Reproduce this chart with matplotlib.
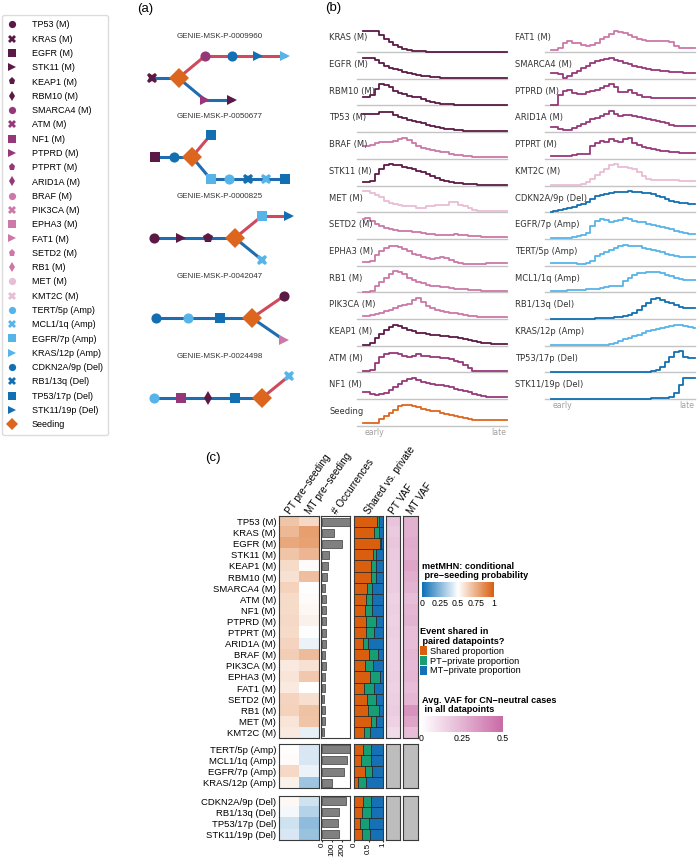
import numpy as np
import matplotlib
matplotlib.use("Agg")
import matplotlib.pyplot as plt
from matplotlib.colors import LinearSegmentedColormap, Normalize
from matplotlib.cm import ScalarMappable
from matplotlib.lines import Line2D
from matplotlib.patches import Patch

plt.rcParams['font.family'] = ['Liberation Sans', 'DejaVu Sans']

### 0 Data
# events (legend order)
events = ["TP53 (M)", "KRAS (M)", "EGFR (M)", "STK11 (M)", "KEAP1 (M)", "RBM10 (M)",
          "SMARCA4 (M)", "ATM (M)", "NF1 (M)", "PTPRD (M)", "PTPRT (M)", "ARID1A (M)",
          "BRAF (M)", "PIK3CA (M)", "EPHA3 (M)", "FAT1 (M)", "SETD2 (M)", "RB1 (M)",
          "MET (M)", "KMT2C (M)",
          "TERT/5p (Amp)", "MCL1/1q (Amp)", "EGFR/7p (Amp)", "KRAS/12p (Amp)",
          "CDKN2A/9p (Del)", "RB1/13q (Del)", "TP53/17p (Del)", "STK11/19p (Del)",
          "Seeding"]

# (a) example trees: events before seeding, after seeding in MT, after seeding in PT
tree_ids = ["GENIE-MSK-P-0009960", "GENIE-MSK-P-0050677", "GENIE-MSK-P-0000825",
            "GENIE-MSK-P-0042047", "GENIE-MSK-P-0024498"]
tree_pre = [["KRAS (M)"],
            ["EGFR (M)", "CDKN2A/9p (Del)"],
            ["TP53 (M)", "STK11 (M)", "KEAP1 (M)"],
            ["CDKN2A/9p (Del)", "TERT/5p (Amp)", "TP53/17p (Del)"],
            ["TERT/5p (Amp)", "NF1 (M)", "RBM10 (M)", "TP53/17p (Del)"]]
tree_met = [["SMARCA4 (M)", "CDKN2A/9p (Del)", "STK11/19p (Del)", "KRAS/12p (Amp)"],
            ["TP53/17p (Del)"],
            ["EGFR/7p (Amp)", "STK11/19p (Del)"],
            ["TP53 (M)"],
            ["MCL1/1q (Amp)"]]
tree_prim = [["PTPRD (M)", "STK11 (M)"],
             ["EGFR/7p (Amp)", "TERT/5p (Amp)", "RB1/13q (Del)", "MCL1/1q (Amp)", "TP53/17p (Del)"],
             ["MCL1/1q (Amp)"],
             ["FAT1 (M)"],
             []]

# (b) event timing profiles, early -> late
b_left_names = ["KRAS (M)", "EGFR (M)", "RBM10 (M)", "TP53 (M)", "BRAF (M)", "STK11 (M)",
                "MET (M)", "SETD2 (M)", "EPHA3 (M)", "RB1 (M)", "PIK3CA (M)", "KEAP1 (M)",
                "ATM (M)", "NF1 (M)", "Seeding"]
b_left_curves = [
    [1, 1, 1, 1, 0.82, 0.62, 0.46, 0.34, 0.24, 0.16, 0.11, 0.07, 0.05, 0.03, 0.02, 0.02, 0.02, 0.01, 0.01, 0.01, 0.01, 0.01, 0.01, 0.01, 0.01, 0.01, 0.01, 0.01, 0.01, 0.01, 0.01, 0.01],
    [1, 1, 1, 0.9, 0.75, 0.62, 0.53, 0.46, 0.39, 0.32, 0.26, 0.21, 0.17, 0.14, 0.11, 0.09, 0.07, 0.05, 0.04, 0.04, 0.03, 0.03, 0.03, 0.02, 0.02, 0.02, 0.02, 0.02, 0.02, 0.02, 0.02, 0.02],
    [0.4, 0.4, 0.48, 0.8, 1, 0.95, 0.85, 0.7, 0.6, 0.52, 0.46, 0.42, 0.38, 0.3, 0.22, 0.15, 0.1, 0.08, 0.06, 0.05, 0.04, 0.04, 0.04, 0.03, 0.03, 0.03, 0.03, 0.03, 0.03, 0.03, 0.03, 0.03],
    [0.85, 0.85, 0.85, 0.86, 0.93, 0.97, 0.95, 0.82, 0.72, 0.65, 0.58, 0.52, 0.47, 0.42, 0.36, 0.3, 0.25, 0.2, 0.16, 0.13, 0.1, 0.08, 0.06, 0.05, 0.04, 0.04, 0.04, 0.04, 0.04, 0.04, 0.04, 0.04],
    [0.62, 0.62, 0.64, 0.75, 0.8, 0.78, 0.82, 0.85, 0.95, 1, 0.88, 0.75, 0.62, 0.52, 0.45, 0.42, 0.38, 0.33, 0.3, 0.25, 0.2, 0.18, 0.15, 0.12, 0.1, 0.09, 0.08, 0.08, 0.08, 0.08, 0.08, 0.08],
    [0.18, 0.18, 0.2, 0.55, 0.8, 0.95, 1, 0.98, 0.95, 0.9, 0.85, 0.77, 0.7, 0.62, 0.55, 0.45, 0.35, 0.28, 0.22, 0.17, 0.13, 0.1, 0.08, 0.06, 0.05, 0.04, 0.04, 0.03, 0.03, 0.03, 0.03, 0.03],
    [1, 1, 0.9, 0.8, 0.7, 0.55, 0.45, 0.38, 0.32, 0.3, 0.3, 0.28, 0.2, 0.22, 0.3, 0.3, 0.32, 0.35, 0.35, 0.48, 0.48, 0.35, 0.28, 0.18, 0.12, 0.08, 0.08, 0.08, 0.08, 0.08, 0.08, 0.08],
    [0.95, 1, 0.85, 0.72, 0.6, 0.52, 0.45, 0.4, 0.38, 0.36, 0.36, 0.35, 0.32, 0.28, 0.24, 0.22, 0.2, 0.19, 0.18, 0.2, 0.22, 0.2, 0.17, 0.15, 0.13, 0.12, 0.11, 0.1, 0.09, 0.08, 0.08, 0.08],
    [0.18, 0.18, 0.2, 0.5, 0.7, 0.85, 0.95, 0.92, 0.9, 0.8, 0.7, 0.55, 0.5, 0.42, 0.35, 0.3, 0.35, 0.4, 0.35, 0.28, 0.18, 0.12, 0.07, 0.06, 0.07, 0.08, 0.09, 0.1, 0.1, 0.1, 0.1, 0.1],
    [0.02, 0.03, 0.08, 0.3, 0.5, 0.7, 0.88, 1, 0.95, 0.85, 0.7, 0.6, 0.5, 0.42, 0.35, 0.32, 0.3, 0.27, 0.24, 0.2, 0.18, 0.16, 0.14, 0.12, 0.1, 0.09, 0.08, 0.08, 0.07, 0.07, 0.06, 0.06],
    [0.12, 0.15, 0.2, 0.25, 0.3, 0.38, 0.45, 0.52, 0.6, 0.68, 0.72, 0.9, 1, 0.82, 0.62, 0.5, 0.42, 0.38, 0.34, 0.3, 0.27, 0.24, 0.2, 0.16, 0.13, 0.11, 0.1, 0.09, 0.09, 0.08, 0.08, 0.08],
    [0.03, 0.05, 0.15, 0.35, 0.55, 0.75, 0.9, 1, 0.95, 0.85, 0.75, 0.68, 0.62, 0.58, 0.55, 0.52, 0.5, 0.48, 0.45, 0.42, 0.4, 0.36, 0.3, 0.26, 0.22, 0.18, 0.15, 0.12, 0.1, 0.08, 0.07, 0.07],
    [0.05, 0.05, 0.1, 0.45, 0.75, 0.85, 0.9, 0.92, 0.88, 0.8, 0.72, 0.8, 0.86, 0.8, 0.76, 0.74, 0.72, 0.7, 0.68, 0.62, 0.56, 0.47, 0.34, 0.2, 0.09, 0.05, 0.06, 0.07, 0.08, 0.08, 0.08, 0.08],
    [0.35, 0.32, 0.25, 0.2, 0.22, 0.3, 0.42, 0.55, 0.7, 0.85, 0.95, 1, 0.9, 0.8, 0.75, 0.72, 0.68, 0.65, 0.6, 0.55, 0.5, 0.45, 0.4, 0.33, 0.25, 0.18, 0.14, 0.12, 0.12, 0.12, 0.12, 0.12],
    [0.11, 0.11, 0.11, 0.12, 0.3, 0.45, 0.6, 0.75, 0.92, 1, 1, 0.95, 0.88, 0.82, 0.75, 0.72, 0.68, 0.62, 0.58, 0.52, 0.46, 0.42, 0.38, 0.33, 0.29, 0.27, 0.27, 0.27, 0.27, 0.27, 0.27, 0.27],
]
b_right_names = ["FAT1 (M)", "SMARCA4 (M)", "PTPRD (M)", "ARID1A (M)", "PTPRT (M)", "KMT2C (M)",
                 "CDKN2A/9p (Del)", "EGFR/7p (Amp)", "TERT/5p (Amp)", "MCL1/1q (Amp)",
                 "RB1/13q (Del)", "KRAS/12p (Amp)", "TP53/17p (Del)", "STK11/19p (Del)"]
b_right_curves = [
    [0.1, 0.1, 0.2, 0.45, 0.5, 0.45, 0.42, 0.35, 0.28, 0.32, 0.45, 0.6, 0.72, 0.85, 1, 0.95, 0.92, 0.8, 0.7, 0.6, 0.55, 0.52, 0.5, 0.5, 0.52, 0.5, 0.47, 0.28, 0.2, 0.2, 0.2, 0.2],
    [0.25, 0.25, 0.22, 0.05, 0.12, 0.25, 0.38, 0.5, 0.62, 0.75, 0.85, 0.9, 0.95, 1, 0.9, 0.82, 0.75, 0.68, 0.6, 0.55, 0.5, 0.46, 0.42, 0.4, 0.37, 0.35, 0.32, 0.3, 0.3, 0.28, 0.28, 0.28],
    [0, 0.02, 0.5, 0.7, 0.72, 0.6, 0.55, 0.55, 0.62, 0.7, 0.75, 0.82, 0.92, 1, 0.85, 0.65, 0.62, 0.72, 0.6, 0.48, 0.42, 0.38, 0.36, 0.35, 0.33, 0.33, 0.33, 0.33, 0.33, 0.33, 0.33, 0.33],
    [0.24, 0.22, 0.15, 0.1, 0.08, 0.18, 0.3, 0.38, 0.5, 0.6, 0.68, 0.78, 0.85, 1, 0.85, 0.78, 0.82, 0.8, 0.75, 0.72, 0.68, 0.62, 0.58, 0.52, 0.48, 0.42, 0.35, 0.3, 0.28, 0.28, 0.28, 0.28],
    [0.12, 0.12, 0.13, 0.15, 0.15, 0.2, 0.22, 0.22, 0.25, 0.6, 0.75, 0.85, 0.8, 0.95, 0.85, 0.78, 0.95, 1, 0.75, 0.65, 0.55, 0.5, 0.45, 0.4, 0.38, 0.35, 0.32, 0.3, 0.28, 0.28, 0.28, 0.28],
    [0.01, 0.01, 0.01, 0.01, 0.02, 0.02, 0.03, 0.05, 0.15, 0.32, 0.5, 0.63, 0.8, 0.95, 1, 0.9, 0.87, 0.82, 0.78, 0.63, 0.45, 0.32, 0.25, 0.24, 0.24, 0.25, 0.24, 0.24, 0.22, 0.2, 0.2, 0.2],
    [0.03, 0.06, 0.1, 0.14, 0.18, 0.24, 0.32, 0.4, 0.5, 0.62, 0.75, 0.82, 0.88, 0.92, 0.95, 0.96, 0.98, 1, 0.98, 0.96, 0.93, 0.9, 0.85, 0.78, 0.7, 0.62, 0.55, 0.5, 0.45, 0.42, 0.4, 0.4],
    [0.02, 0.03, 0.04, 0.05, 0.06, 0.08, 0.12, 0.18, 0.28, 0.6, 0.85, 0.95, 0.9, 0.82, 0.85, 0.9, 1, 0.92, 0.86, 0.82, 0.78, 0.72, 0.65, 0.6, 0.55, 0.5, 0.45, 0.38, 0.32, 0.27, 0.25, 0.25],
    [0.13, 0.13, 0.12, 0.12, 0.12, 0.1, 0.08, 0.08, 0.1, 0.2, 0.45, 0.55, 0.65, 0.75, 0.85, 0.95, 1, 0.92, 0.95, 0.92, 0.85, 0.78, 0.72, 0.68, 0.63, 0.57, 0.5, 0.45, 0.42, 0.4, 0.4, 0.4],
    [0.08, 0.08, 0.08, 0.08, 0.09, 0.1, 0.1, 0.12, 0.14, 0.16, 0.18, 0.2, 0.24, 0.28, 0.3, 0.32, 0.55, 0.7, 0.82, 0.9, 0.92, 0.95, 0.97, 0.95, 0.9, 0.82, 0.76, 0.7, 0.65, 0.6, 0.58, 0.56],
    [0.01, 0.01, 0.01, 0.01, 0.01, 0.01, 0.01, 0.01, 0.02, 0.02, 0.03, 0.04, 0.05, 0.06, 0.08, 0.1, 0.12, 0.18, 0.3, 0.45, 0.62, 0.75, 0.95, 1, 0.9, 0.82, 0.75, 0.65, 0.55, 0.5, 0.5, 0.5],
    [0.01, 0.01, 0.01, 0.01, 0.01, 0.01, 0.01, 0.02, 0.02, 0.02, 0.03, 0.04, 0.05, 0.08, 0.15, 0.22, 0.3, 0.38, 0.45, 0.52, 0.6, 0.68, 0.74, 0.8, 0.85, 0.88, 0.92, 0.96, 1, 0.92, 0.87, 0.85],
    [0, 0, 0, 0, 0, 0, 0, 0, 0, 0, 0.01, 0.01, 0.01, 0.01, 0.01, 0.01, 0.02, 0.02, 0.02, 0.03, 0.03, 0.03, 0.05, 0.1, 0.25, 0.5, 0.75, 0.95, 1, 0.75, 0.7, 0.7],
    [0, 0, 0, 0, 0, 0, 0, 0, 0, 0, 0, 0, 0, 0, 0, 0.01, 0.01, 0.01, 0.01, 0.02, 0.02, 0.02, 0.03, 0.03, 0.03, 0.05, 0.1, 0.3, 0.65, 1, 1, 1],
]

# (c) per-event summary
c_names = events[:-1]
pt_pre = [0.68, 0.72, 0.77, 0.68, 0.61, 0.59, 0.64, 0.61, 0.61, 0.62, 0.61, 0.63, 0.65, 0.57,
          0.58, 0.57, 0.63, 0.64, 0.58, 0.57, 0.50, 0.51, 0.62, 0.54, 0.52, 0.48, 0.40, 0.42]
mt_pre = [0.62, 0.80, 0.79, 0.73, 0.51, 0.70, 0.50, 0.51, 0.52, 0.54, 0.50, 0.46, 0.71, 0.59,
          0.67, 0.50, 0.60, 0.69, 0.68, 0.45, 0.42, 0.42, 0.46, 0.30, 0.40, 0.35, 0.27, 0.29]
occurrences = [281, 120, 196, 65, 59, 48, 28, 34, 38, 38, 34, 41, 24, 38, 28, 21, 17, 28, 21, 14,
               281, 254, 223, 93, 244, 172, 161, 165]
shared_prop = [0.79, 0.69, 0.91, 0.67, 0.58, 0.60, 0.45, 0.41, 0.38, 0.40, 0.40, 0.29, 0.53, 0.38,
               0.56, 0.35, 0.46, 0.49, 0.60, 0.34, 0.32, 0.25, 0.39, 0.14, 0.32, 0.26, 0.20, 0.28]
pt_private = [0.09, 0.17, 0.03, 0.08, 0.18, 0.15, 0.16, 0.21, 0.23, 0.35, 0.28, 0.20, 0.32, 0.27,
              0.35, 0.34, 0.32, 0.38, 0.16, 0.21, 0.28, 0.33, 0.23, 0.27, 0.28, 0.33, 0.33, 0.28]
mt_private = [0.12, 0.14, 0.06, 0.25, 0.24, 0.25, 0.39, 0.38, 0.39, 0.25, 0.32, 0.51, 0.15, 0.35,
              0.09, 0.31, 0.22, 0.13, 0.24, 0.45, 0.40, 0.42, 0.38, 0.59, 0.40, 0.41, 0.47, 0.44]
pt_vaf = [0.20, 0.18, 0.19, 0.18, 0.17, 0.17, 0.17, 0.15, 0.16, 0.15, 0.16, 0.15, 0.15, 0.15,
          0.16, 0.15, 0.16, 0.17, 0.15, 0.12, None, None, None, None, None, None, None, None]
mt_vaf = [0.26, 0.26, 0.28, 0.27, 0.30, 0.27, 0.25, 0.22, 0.24, 0.25, 0.22, 0.22, 0.24, 0.23,
          0.24, 0.22, 0.24, 0.36, 0.30, 0.22, None, None, None, None, None, None, None, None]

### 1 Styles
DARK, MED, LIGHT, VLIGHT = '#5b1a45', '#963779', '#cc78a8', '#e8bdd6'
AMP, DEL, SEED = '#56b4e9', '#1270b2', '#dd661e'
ev_col = [DARK]*6 + [MED]*6 + [LIGHT]*6 + [VLIGHT]*2 + [AMP]*4 + [DEL]*4 + [SEED]
ev_mark = ['o', 'X', 's', '>', 'p', 'd']*3 + ['o', 'X'] + ['o', 'X', 's', '>']*2 + ['D']
style = {e: (c, m) for e, c, m in zip(events, ev_col, ev_mark)}

W, H = 700, 857
fig = plt.figure(figsize=(W/100, H/100), dpi=100)


def pax(x0, y0, x1, y1):
    # axes placed in pixel coordinates (origin top-left)
    return fig.add_axes([x0/W, 1 - y1/H, (x1 - x0)/W, (y1 - y0)/H])


### 2 Legend of events
handles = [Line2D([], [], ls='none', marker=style[e][1], color=style[e][0],
                  markersize=6.5 if e == 'Seeding' else 5.2, markeredgewidth=0)
           for e in events]
fig.legend(handles, events, loc='upper left', bbox_to_anchor=(2/W, 1 - 15/H),
           borderaxespad=0, fontsize=6.5, labelspacing=0.585, handlelength=1.0,
           handletextpad=1.7, borderpad=0.6, frameon=True, edgecolor='#d4d4d4',
           fancybox=True)

### 3 (a) trees
axa = pax(115, 20, 325, 430)
axa.set_xlim(115, 325)
axa.set_ylim(430, 20)
axa.axis('off')
tree_x0 = [152, 155, 154, 156, 154]
tree_y0 = [78, 157, 238, 318, 398]
tree_step = [26.5, 18.5, 27, 32, 27]
DY = 22
RED, BLUE = '#cf4a5c', '#1f6cb0'
for tid, pre, met, prim, x0, y0, s in zip(tree_ids, tree_pre, tree_met, tree_prim,
                                          tree_x0, tree_y0, tree_step):
    nodes = [(x0 + i*s, y0, e) for i, e in enumerate(pre)]
    xs = x0 + len(pre)*s
    nodes.append((xs, y0, 'Seeding'))
    for i in range(len(nodes) - 1):
        axa.plot([nodes[i][0], nodes[i+1][0]], [y0, y0], color=BLUE, lw=2.2, zorder=1,
                 solid_capstyle='butt')
    for branch, dy, col in ((met, -DY, RED), (prim, DY, BLUE)):
        px, py = xs, y0
        for j, e in enumerate(branch):
            nx, ny = xs + (j + 1)*s, y0 + dy
            axa.plot([px, nx], [py, ny], color=col, lw=2.2, zorder=1)
            nodes.append((nx, ny, e))
            px, py = nx, ny
    for nx, ny, e in nodes:
        c, m = style[e]
        axa.plot(nx, ny, ls='none', marker=m, color=c, markeredgewidth=0,
                 markersize=10.5 if e == 'Seeding' else 7.3, zorder=3)
    axa.text(220, y0 - 41, tid, ha='center', va='center', fontsize=5.8, color='#333333')

### 4 (b) timing ridges
ROW = 26.7
BASE0 = 52


def ridge(x0, x1, names, curves, lab_x):
    ax = pax(x0, 20, x1, 445)
    ax.set_xlim(0, 1)
    ax.set_ylim(-(445 - BASE0)/ROW, (BASE0 - 20)/ROW)
    ax.axis('off')
    for i, (nm, vals) in enumerate(zip(names, curves)):
        base = -i
        xs = np.linspace(0, 1, len(vals))
        ax.plot([-0.04, 1], [base, base], color='#c4c4c4', lw=1.0, clip_on=False, zorder=1)
        ax.step(xs, base + np.asarray(vals)*0.79, where='mid', color=style[nm][0],
                lw=1.3, clip_on=False, zorder=2)
        ax.text(lab_x, base + 0.53, nm, ha='left', va='center', fontsize=6,
                family='DejaVu Sans', color='#333333')
    yb = -(len(names) - 1) - 0.25
    ax.text(0.08, yb, 'early', ha='center', va='center', fontsize=5.6,
            family='DejaVu Sans', color='#a0a0a0')
    ax.text(0.945, yb, 'late', ha='center', va='center', fontsize=5.6,
            family='DejaVu Sans', color='#a0a0a0')


ridge(363, 507, b_left_names, b_left_curves, -0.236)
ridge(551, 695, b_right_names, b_right_curves, -0.247)

### 5 (c) summary heatmap
cm_pre = LinearSegmentedColormap.from_list('pre', ['#0d6fb5', '#ffffff', '#d85f10'])
cm_vaf = LinearSegmentedColormap.from_list('vaf', ['#ffffff', '#c96aa6'])
cm_vaf.set_bad('#bdbdbd')
EDGE = '#3a3a3a'
ROWH = 11.1
groups = ['(M)', '(Amp)', '(Del)']
block_top = [516, 743.8, 795.5]


def frame(ax):
    for sp in ax.spines.values():
        sp.set_color(EDGE)
        sp.set_linewidth(0.8)


for gi, (g, top) in enumerate(zip(groups, block_top)):
    idx = [i for i, nm in enumerate(c_names) if nm.endswith(g)]
    n = len(idx)
    bot = top + n*ROWH
    names = [c_names[i] for i in idx]
    last = gi == len(groups) - 1

    hm = pax(279, top, 319, bot)
    hm.imshow(np.array([[pt_pre[i], mt_pre[i]] for i in idx]), cmap=cm_pre, vmin=0, vmax=1,
              aspect='auto', interpolation='nearest')
    hm.set_xticks([])
    hm.set_yticks(range(n))
    hm.set_yticklabels(names, fontsize=6.8)
    hm.tick_params(axis='y', length=0, pad=2)
    frame(hm)

    oc = pax(321, top, 350, bot)
    oc.barh(range(n), [occurrences[i] for i in idx], height=0.72, color='#808080',
            edgecolor=EDGE, lw=0.5)
    oc.set_xlim(-15, 283)
    oc.set_ylim(n - 0.5, -0.5)
    oc.set_yticks([])
    frame(oc)

    sh = pax(353.5, top, 383, bot)
    s1 = np.array([shared_prop[i] for i in idx])
    s2 = np.array([pt_private[i] for i in idx])
    s3 = np.array([mt_private[i] for i in idx])
    sh.barh(range(n), s1, height=1.0, color='#d95f0e', edgecolor='#222222', lw=0.5)
    sh.barh(range(n), s2, left=s1, height=1.0, color='#179e74', edgecolor='#222222', lw=0.5)
    sh.barh(range(n), s3, left=s1 + s2, height=1.0, color='#1570b5', edgecolor='#222222', lw=0.5)
    sh.set_xlim(-0.028, 1.01)
    sh.set_ylim(n - 0.5, -0.5)
    sh.set_yticks([])
    frame(sh)

    for vx0, vx1, vals in ((385.7, 400, pt_vaf), (403.3, 418.3, mt_vaf)):
        va = pax(vx0, top, vx1, bot)
        arr = np.array([[np.nan if vals[i] is None else vals[i]] for i in idx])
        va.imshow(np.ma.masked_invalid(arr), cmap=cm_vaf, vmin=0, vmax=0.5,
                  aspect='auto', interpolation='nearest')
        va.set_xticks([])
        va.set_yticks([])
        frame(va)

    if last:
        oc.set_xticks([0, 100, 200])
        oc.set_xticklabels(['0', '100', '200'], rotation=90, fontsize=5.8)
        oc.tick_params(axis='x', length=1.5, pad=0.5, color=EDGE)
        sh.set_xticks([0, 0.5, 1])
        sh.set_xticklabels(['0', '0.5', '1'], rotation=90, fontsize=5.8)
        sh.tick_params(axis='x', length=1.5, pad=0.5, color=EDGE)
    else:
        oc.set_xticks([])
        sh.set_xticks([])

# column headers
headers = ['PT pre\u2212seeding', 'MT pre\u2212seeding', '# Occurrences',
           'Shared vs. private', 'PT VAF', 'MT VAF']
head_x = [288, 308, 335, 367, 392, 410]
for hx, ht in zip(head_x, headers):
    fig.text(hx/W, 1 - 513/H, ht, rotation=55, rotation_mode='anchor', ha='left',
             va='center', fontsize=7.2)

# metMHN colour bar
fig.text(422/W, 1 - 562/H, 'metMHN: conditional\n pre\u2212seeding probability',
         ha='left', va='top', fontsize=6.6, weight='bold', linespacing=1.05)
cax1 = pax(422, 582, 494, 597)
cb1 = fig.colorbar(ScalarMappable(Normalize(0, 1), cm_pre), cax=cax1, orientation='horizontal')
cb1.set_ticks([0, 0.25, 0.5, 0.75, 1])
cb1.set_ticklabels(['0', '0.25', '0.5', '0.75', '1'])
cb1.ax.tick_params(length=0, labelsize=6.3, pad=1.5)
cb1.outline.set_visible(False)

# shared / private legend
fig.legend(handles=[Patch(facecolor='#d95f0e', edgecolor='none'),
                    Patch(facecolor='#179e74', edgecolor='none'),
                    Patch(facecolor='#1570b5', edgecolor='none')],
           labels=['Shared proportion', 'PT\u2212private proportion', 'MT\u2212private proportion'],
           loc='upper left', bbox_to_anchor=(420/W, 1 - 627/H), frameon=False,
           fontsize=6.6, title='Event shared in\n paired datapoints?',
           title_fontproperties={'weight': 'bold', 'size': 6.6}, alignment='left',
           handlelength=0.75, handleheight=1.15, handletextpad=0.3, labelspacing=0,
           borderpad=0, borderaxespad=0)

# VAF colour bar
fig.text(422/W, 1 - 696/H, 'Avg. VAF for CN\u2212neutral cases\n in all datapoints',
         ha='left', va='top', fontsize=6.6, weight='bold', linespacing=1.05)
cax2 = pax(421, 716, 503, 732)
cb2 = fig.colorbar(ScalarMappable(Normalize(0, 0.5), cm_vaf), cax=cax2, orientation='horizontal')
cb2.set_ticks([0, 0.25, 0.5])
cb2.set_ticklabels(['0', '0.25', '0.5'])
cb2.ax.tick_params(length=0, labelsize=6.3, pad=1.5)
cb2.outline.set_visible(False)

# panel labels
fig.text(145/W, 1 - 9/H, '(a)', ha='center', va='center', fontsize=9.5)
fig.text(333/W, 1 - 8/H, '(b)', ha='center', va='center', fontsize=9.5)
fig.text(213/W, 1 - 458/H, '(c)', ha='center', va='center', fontsize=9.5)

fig.savefig('out.png', dpi=100)
